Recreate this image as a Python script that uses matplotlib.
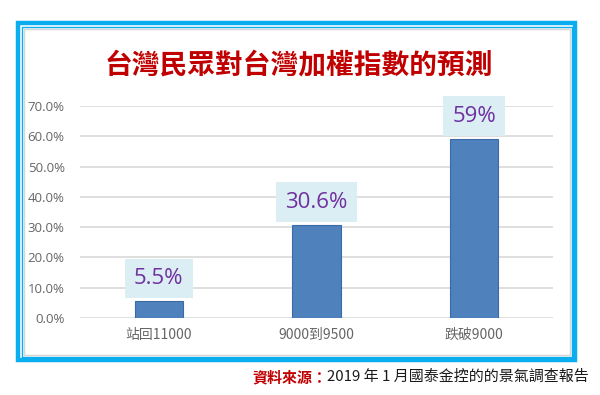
import numpy as np
import matplotlib.pyplot as plt
from matplotlib.patches import Rectangle

plt.rcParams['font.family'] = ['Noto Sans CJK TC', 'DejaVu Sans']

categories = ['站回11000', '9000到9500', '跌破9000']
values = [5.5, 30.6, 59.0]
value_labels = ['5.5%', '30.6%', '59%']
yticks = [0, 10, 20, 30, 40, 50, 60, 70]

W, H = 600, 395
fig = plt.figure(figsize=(6, 3.95), dpi=100)

# frame around the chart
def frect(x0, y0, x1, y1, **kw):
    r = Rectangle((x0 / W, 1 - y1 / H), (x1 - x0) / W, (y1 - y0) / H,
                  transform=fig.transFigure, fill=False, **kw)
    fig.patches.append(r)

frect(18, 23, 575, 360, edgecolor='#0AADEE', linewidth=3.2)
frect(21.5, 26.5, 571.5, 356.5, edgecolor='#0AADEE', linewidth=1.0)
frect(23.5, 28.5, 569.5, 354.5, edgecolor='#D6D6D6', linewidth=1.0)

ax = fig.add_axes([80 / W, 1 - 318 / H, (553 - 80) / W, (318 - 106) / H])
x = np.arange(len(categories))
bars = ax.bar(x, values, width=0.305, color='#4F81BD', edgecolor='#3A6AA8',
              linewidth=0.8, zorder=3)

ax.set_ylim(0, 70)
ax.set_xlim(-0.5, 2.5)
ax.set_yticks(yticks)
ax.set_yticklabels([f'{t:.1f}%' for t in yticks], fontsize=9.5, color='#666666',
                   family=['Open Sans', 'DejaVu Sans'])
ax.set_xticks(x)
ax.set_xticklabels(categories, fontsize=10, color='#666666')
ax.tick_params(length=0, pad=7)
ax.tick_params(axis='y', pad=11)
ax.grid(axis='y', color='#D9D9D9', linewidth=1.2, zorder=0)
for s in ax.spines.values():
    s.set_visible(False)

for xi, v, lab in zip(x, values, value_labels):
    ax.annotate(lab, (xi, v), xytext=(0, 9), textcoords='offset points',
                ha='center', va='bottom', fontsize=16, color='#7030A0',
                family=['Open Sans', 'DejaVu Sans'], zorder=4,
                bbox=dict(boxstyle='square,pad=0.42', fc='#DAEEF3', ec='none'))

fig.text(299 / W, 1 - 65 / H, '台灣民眾對台灣加權指數的預測', ha='center', va='center',
         fontsize=20, fontweight='bold', color='#C00000')

t1 = fig.text(252 / W, 1 - 377 / H, '資料來源：', ha='left', va='center',
              fontsize=10.8, fontweight='bold', color='#C00000')
fig.canvas.draw()
bb = t1.get_window_extent()
fig.text(bb.x1 / W, 1 - 377 / H, '2019 年 1 月國泰金控的的景氣調查報告', ha='left',
         va='center', fontsize=10.8, color='#1A1A1A')

fig.savefig('out.png', dpi=100)
